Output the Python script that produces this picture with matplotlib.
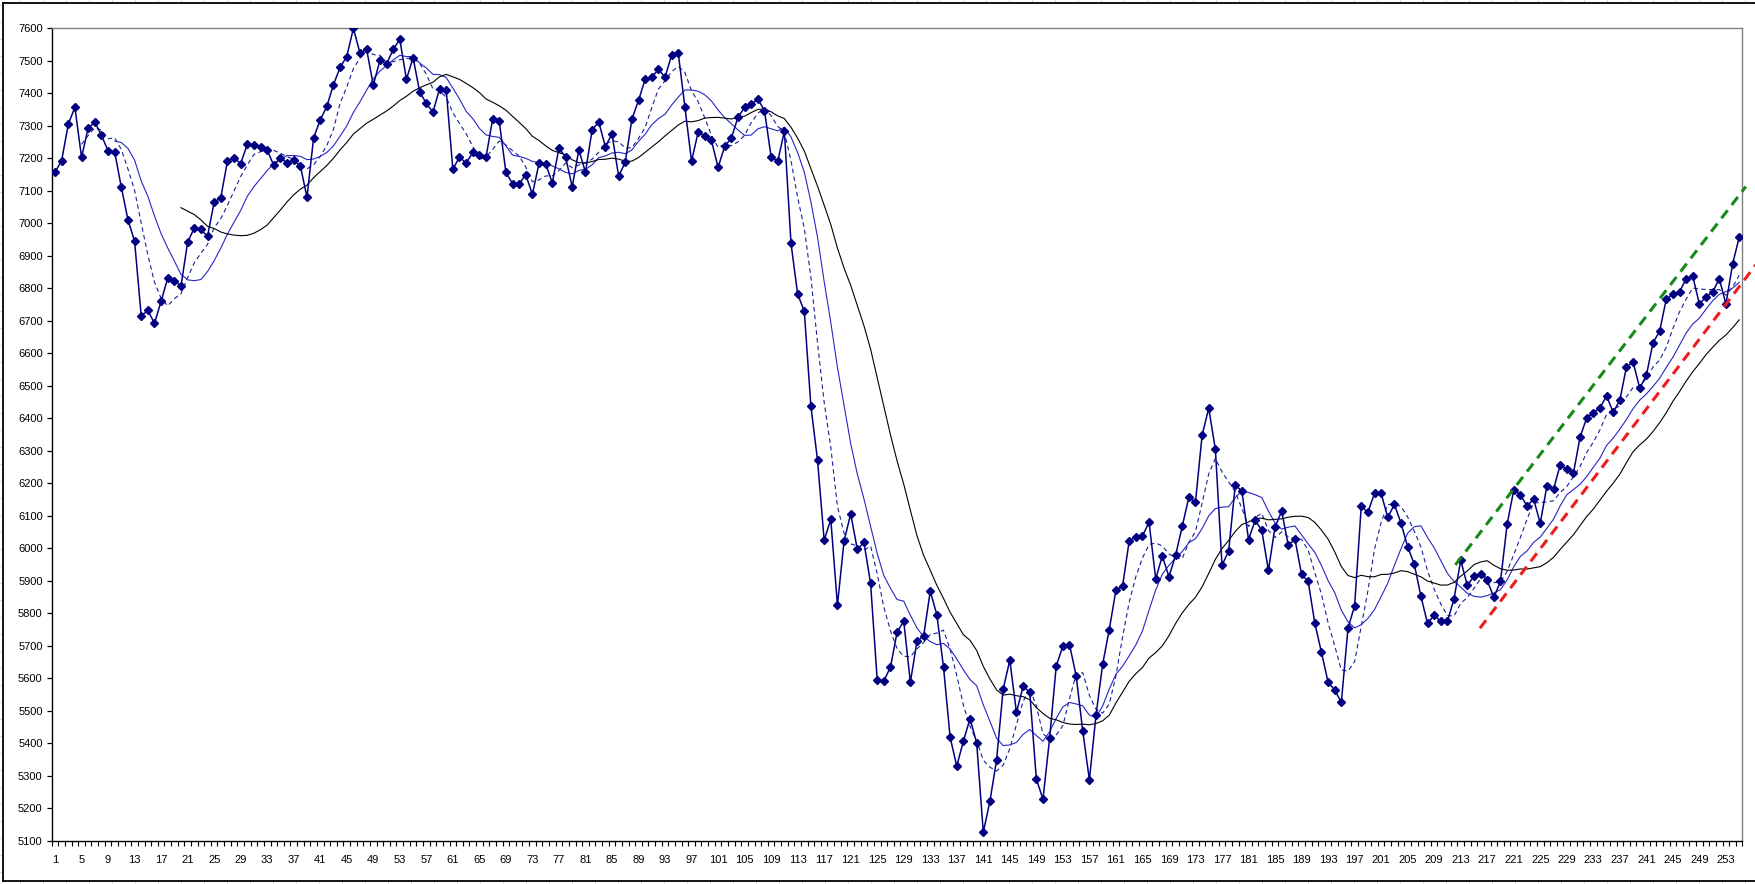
import matplotlib
matplotlib.use("Agg")
import matplotlib.pyplot as plt
import numpy as np
import pandas as pd

# ---------------------------------------------------------------------------
# Data
# ---------------------------------------------------------------------------
PRICE = [
    7157, 7193, 7305, 7357, 7203, 7293, 7311, 7271, 7223, 7219,
    7111, 7011, 6945, 6715, 6732, 6692, 6760, 6832, 6824, 6807,
    6942, 6985, 6981, 6960, 7065, 7079, 7191, 7201, 7184, 7243,
    7240, 7234, 7225, 7178, 7201, 7186, 7194, 7177, 7080, 7263,
    7318, 7360, 7427, 7480, 7513, 7600, 7523, 7535, 7425, 7501,
    7490, 7535, 7566, 7443, 7510, 7404, 7369, 7342, 7414, 7410,
    7166, 7204, 7185, 7218, 7209, 7203, 7321, 7314, 7157, 7122,
    7122, 7149, 7089, 7185, 7183, 7124, 7231, 7204, 7112, 7226,
    7157, 7287, 7312, 7236, 7275, 7145, 7188, 7320, 7378, 7443,
    7449, 7474, 7449, 7518, 7523, 7357, 7191, 7281, 7268, 7255,
    7172, 7237, 7262, 7326, 7357, 7366, 7382, 7347, 7204, 7191,
    7283, 6938, 6782, 6730, 6437, 6271, 6025, 6089, 5825, 6022,
    6106, 5997, 6018, 5892, 5595, 5592, 5634, 5742, 5776, 5588,
    5714, 5730, 5868, 5795, 5634, 5418, 5330, 5407, 5476, 5401,
    5126, 5222, 5348, 5567, 5656, 5495, 5575, 5558, 5290, 5228,
    5415, 5638, 5699, 5704, 5608, 5438, 5287, 5487, 5643, 5750,
    5871, 5883, 6022, 6036, 6038, 6080, 5906, 5976, 5913, 5978,
    6068, 6157, 6142, 6348, 6431, 6305, 5948, 5991, 6194, 6176,
    6027, 6086, 6055, 5932, 6066, 6114, 6009, 6028, 5920, 5898,
    5769, 5680, 5588, 5564, 5526, 5754, 5823, 6129, 6111, 6169,
    6169, 6095, 6135, 6077, 6005, 5951, 5852, 5769, 5794, 5775,
    5775, 5845, 5963, 5886, 5914, 5922, 5901, 5849, 5898, 6074,
    6179, 6165, 6130, 6151, 6077, 6192, 6182, 6256, 6243, 6231,
    6342, 6401, 6417, 6432, 6469, 6418, 6456, 6558, 6573, 6493,
    6532, 6632, 6668, 6766, 6782, 6789, 6830, 6837, 6751, 6774,
    6788, 6830, 6751, 6874, 6957,
]

MA_WINDOWS = [5, 10, 20]          # moving-average periods drawn on the chart

# hand-drawn channel lines: (x0, y0), (x1, y1) in category / price units
UPPER_LINE_X = [212.2, 256.0]
UPPER_LINE_Y = [5949, 7113]
LOWER_LINE_X = [215.9, 257.5]
LOWER_LINE_Y = [5754, 6872]

Y_MIN, Y_MAX, Y_STEP = 5100, 7600, 100
X_LABEL_STEP = 4

# ---------------------------------------------------------------------------
# Plot
# ---------------------------------------------------------------------------
plt.rcParams["font.family"] = ["Liberation Sans", "DejaVu Sans"]

W, H = 1756, 884
fig = plt.figure(figsize=(W / 100, H / 100), dpi=100)

# spreadsheet background: faint cell grid outside the chart frame
for gx in np.arange(20, W, 23):
    fig.add_artist(plt.Line2D([gx / W, gx / W], [1 - 3.3 / H, 1], color="#d8d8d8", lw=0.7))
    fig.add_artist(plt.Line2D([gx / W, gx / W], [0, 1 - 881 / H], color="#d8d8d8", lw=0.7))
for gy in np.arange(5, H, 17):
    fig.add_artist(plt.Line2D([0, 2.7 / W], [1 - gy / H, 1 - gy / H], color="#d8d8d8", lw=0.7))
# chart area frame
fig.add_artist(plt.Line2D([2.7 / W, 1], [1 - 3.3 / H, 1 - 3.3 / H], color="black", lw=1.3))
fig.add_artist(plt.Line2D([2.7 / W, 1], [1 - 881 / H, 1 - 881 / H], color="black", lw=1.3))
fig.add_artist(plt.Line2D([2.7 / W, 2.7 / W], [1 - 881 / H, 1 - 3.3 / H], color="black", lw=1.3))

left, right = 51.7 / W, 1742.5 / W
bottom, top = 1 - 840.8 / H, 1 - 28.3 / H
ax = fig.add_axes([left, bottom, right - left, top - bottom])

x = np.arange(1, len(PRICE) + 1)
price = pd.Series(PRICE, index=x, dtype=float)

ma_styles = {
    5:  dict(color="#1c1c9c", lw=0.8, linestyle=(0, (4, 3))),
    10: dict(color="#2626c4", lw=0.8, linestyle="-"),
    20: dict(color="black",   lw=0.8, linestyle="-"),
}
for w in MA_WINDOWS:
    ma = price.rolling(w).mean()
    ax.plot(ma.index, ma.values, zorder=2, **ma_styles[w])

ax.plot(x, price.values, color="#000080", lw=1.1, marker="D", markersize=4.2,
        markerfacecolor="#000080", markeredgecolor="#000080", zorder=3)

ax.plot(UPPER_LINE_X, UPPER_LINE_Y, color="#168a16", lw=2.2,
        linestyle=(0, (3.3, 2.2)), clip_on=False, zorder=4)
ax.plot(LOWER_LINE_X, LOWER_LINE_Y, color="#f01c1c", lw=2.2,
        linestyle=(0, (3.3, 2.2)), clip_on=False, zorder=4)

ax.set_xlim(0.5, len(PRICE) + 0.5)
ax.set_ylim(Y_MIN, Y_MAX)

ax.set_yticks(np.arange(Y_MIN, Y_MAX + 1, Y_STEP))
ax.tick_params(axis="y", direction="out", length=3.5, width=0.9, labelsize=8, pad=3,
               labelcolor="black")

major_x = np.arange(1, len(PRICE) + 1, X_LABEL_STEP)
ax.set_xticks(major_x)
ax.set_xticklabels([str(v) for v in major_x],
                   fontfamily=["Liberation Sans Narrow", "Liberation Sans"])
ax.set_xticks(np.arange(0.5, len(PRICE) + 1, 1), minor=True)
ax.tick_params(axis="x", which="major", length=0, labelsize=8, pad=10, labelcolor="black")
ax.tick_params(axis="x", which="minor", direction="out", length=3.5, width=0.8)

for side in ("left", "bottom"):
    ax.spines[side].set_color("black")
    ax.spines[side].set_linewidth(1.0)
for side in ("top", "right"):
    ax.spines[side].set_color("#808080")
    ax.spines[side].set_linewidth(1.0)

fig.savefig("out.png", dpi=100)
